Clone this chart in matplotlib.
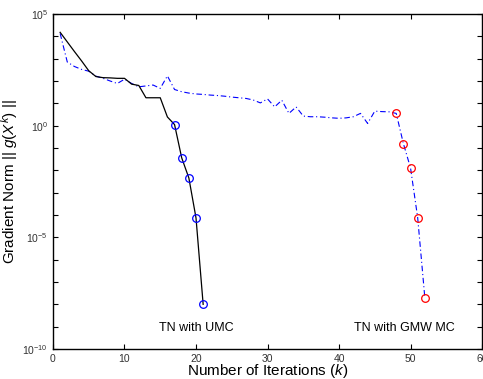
import numpy as np
import matplotlib
matplotlib.use('Agg')
import matplotlib.pyplot as plt
from matplotlib.ticker import FixedLocator, NullFormatter

plt.rcParams['font.family'] = ['Liberation Sans', 'DejaVu Sans']
plt.rcParams['mathtext.fontset'] = 'custom'
plt.rcParams['mathtext.it'] = 'Liberation Sans:italic'
plt.rcParams['mathtext.rm'] = 'Liberation Sans'

# TN with UMC, log10 of gradient norm per iteration
umc_iter = np.arange(1, 22)
umc_log = [4.18, 3.75, 3.32, 2.90, 2.46, 2.20, 2.15, 2.14, 2.12, 2.12,
           1.86, 1.80, 1.25, 1.25, 1.25, 0.39, 0.05, -1.44, -2.34, -4.13, -8.0]
umc_marked = [17, 18, 19, 20, 21]

# TN with GMW MC
gmw_iter = np.arange(1, 53)
gmw_log = [4.13, 2.85, 2.65, 2.52, 2.44, 2.22, 2.12, 2.00, 1.89, 2.08,
           1.89, 1.74, 1.78, 1.82, 1.67, 2.23, 1.62, 1.52, 1.46, 1.42,
           1.40, 1.37, 1.35, 1.32, 1.28, 1.25, 1.22, 1.15, 1.02, 1.20,
           0.84, 1.14, 0.55, 0.84, 0.43, 0.40, 0.40, 0.38, 0.35, 0.33,
           0.35, 0.40, 0.55, 0.10, 0.65, 0.63, 0.62, 0.55, -0.80, -1.89,
           -4.12, -7.7]
gmw_marked = [48, 49, 50, 51, 52]

umc_val = 10.0 ** np.array(umc_log)
gmw_val = 10.0 ** np.array(gmw_log)

fig = plt.figure(figsize=(4.83, 3.79), dpi=100)
ax = fig.add_axes([0.1097, 0.0792, 0.8883, 0.8838])

ax.semilogy(gmw_iter, gmw_val, color='#0000ff', linestyle='-.', lw=0.8,
            dashes=(5, 2.5, 1, 2.5))
ax.semilogy(umc_iter, umc_val, color='black', linestyle='-', lw=0.9)

mi = [list(umc_iter).index(k) for k in umc_marked]
ax.plot(umc_iter[mi], umc_val[mi], 'o', mfc='none', mec='#0000ff', ms=5.5, mew=0.9)
mg = [list(gmw_iter).index(k) for k in gmw_marked]
ax.plot(gmw_iter[mg], gmw_val[mg], 'o', mfc='none', mec='#ff0000', ms=5.5, mew=0.9)

ax.set_xlim(0, 60)
ax.set_ylim(1e-10, 1e5)
ax.set_xticks([0, 10, 20, 30, 40, 50, 60])
ax.yaxis.set_major_locator(FixedLocator([1e-10, 1e-5, 1e0, 1e5]))
ax.yaxis.set_minor_locator(FixedLocator([10.0 ** k for k in range(-10, 6)]))
ax.yaxis.set_minor_formatter(NullFormatter())

ax.tick_params(which='both', direction='in', top=True, right=True,
               labelsize=7.5, labelcolor='#333333')
ax.tick_params(which='major', length=3.5, width=0.8)
ax.tick_params(which='minor', length=3.5, width=0.8)
for s in ax.spines.values():
    s.set_linewidth(1.0)

ax.set_xlabel('Number of Iterations ($k$)', fontsize=11, labelpad=-1)
ax.set_ylabel('Gradient Norm || $g$($X^k$) ||', fontsize=11, labelpad=2)

ax.text(20, 10 ** -9.04, 'TN with UMC', ha='center', va='center', fontsize=9)
ax.text(49.2, 10 ** -9.04, 'TN with GMW MC', ha='center', va='center', fontsize=9)

fig.savefig('out.png', dpi=100)
